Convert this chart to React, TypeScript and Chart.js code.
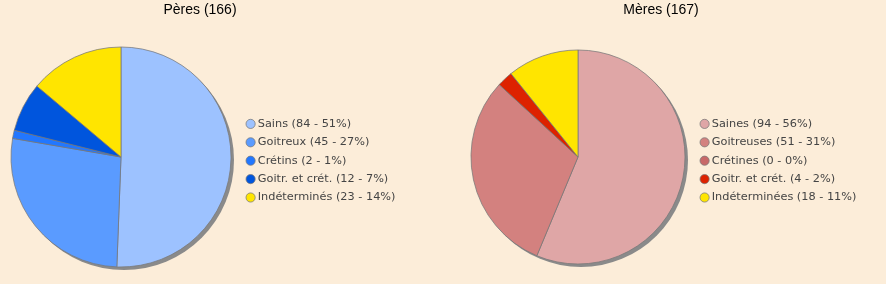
import React, { useEffect, useRef } from 'react';
import { Chart, registerables } from 'chart.js';

Chart.register(...registerables);

const BG = '#FCEDD9';

const peresTitle = 'Pères';
const peresCategories = ['Sains', 'Goitreux', 'Crétins', 'Goitr. et crét.', 'Indéterminés'];
const peresValues = [84, 45, 2, 12, 23];
const peresColors = ['#9DC2FF', '#5A9BFF', '#2277FF', '#0055DD', '#FFE500'];

const meresTitle = 'Mères';
const meresCategories = ['Saines', 'Goitreuses', 'Crétines', 'Goitr. et crét.', 'Indéterminées'];
const meresValues = [94, 51, 0, 4, 18];
const meresColors = ['#DFA6A6', '#D3817F', '#C86868', '#DD2200', '#FFE500'];

const shadowPlugin = {
  id: 'pieShadow',
  beforeDatasetsDraw(chart: any) {
    const arcs = chart.getDatasetMeta(0).data;
    if (!arcs || !arcs.length) return;
    const { x, y, outerRadius } = arcs[0].getProps(['x', 'y', 'outerRadius'], true);
    const ctx = chart.ctx;
    ctx.save();
    ctx.fillStyle = '#8a8a8a';
    ctx.beginPath();
    ctx.arc(x + 3, y + 3, outerRadius, 0, Math.PI * 2);
    ctx.fill();
    ctx.restore();
  },
};

type PieProps = {
  title: string;
  categories: string[];
  values: number[];
  colors: string[];
  radius: number;
  left: number;
  width: number;
  legendWidth: number;
};

function PieChart({ title, categories, values, colors, radius, left, width, legendWidth }: PieProps) {
  const ref = useRef<HTMLCanvasElement | null>(null);
  useEffect(() => {
    if (!ref.current) return;
    const total = values.reduce((a, b) => a + b, 0);
    const labels = categories.map(
      (c, i) => `${c} (${values[i]} - ${Math.round((values[i] / total) * 100)}%)`
    );
    const chart = new Chart(ref.current, {
      type: 'pie',
      data: {
        labels,
        datasets: [
          {
            data: values,
            backgroundColor: colors,
            borderColor: 'rgba(120,120,120,0.75)',
            borderWidth: 1,
            radius,
          } as any,
        ],
      },
      options: {
        responsive: false,
        animation: false,
        events: [],
        layout: { padding: { left: 0, right: 0, top: 0, bottom: 17 } },
        plugins: {
          tooltip: { enabled: false },
          title: {
            display: true,
            text: `${title} (${total})`,
            color: '#000',
            font: { family: '"Liberation Sans", Arial, sans-serif', size: 14, weight: 'normal' },
            padding: { top: 2, bottom: 28.2 },
          },
          legend: {
            display: true,
            position: 'right',
            fullSize: false,
            maxWidth: legendWidth,
            title: {
              display: true,
              text: ' ',
              font: { size: 2, lineHeight: 1 },
              padding: { top: 0, bottom: 5.4 },
            },
            labels: {
              usePointStyle: true,
              pointStyle: 'circle',
              boxWidth: 3,
              boxHeight: 6.5,
              padding: 7.1,
              color: '#444',
              font: { family: '"DejaVu Sans", sans-serif', size: 11.3 },
            },
          },
        },
      } as any,
      plugins: [shadowPlugin],
    });
    return () => chart.destroy();
  }, []);
  return (
    <canvas
      ref={ref}
      width={width}
      height={284}
      style={{ position: 'absolute', left, top: 0, width, height: 284 }}
    />
  );
}

export default function App() {
  return (
    <div
      style={{
        position: 'fixed',
        left: 0,
        top: 0,
        width: 886,
        height: 284,
        background: BG,
        overflow: 'hidden',
      }}
    >
      <PieChart
        title={peresTitle}
        categories={peresCategories}
        values={peresValues}
        colors={peresColors}
        radius={110}
        left={0}
        width={400}
        legendWidth={158}
      />
      <PieChart
        title={meresTitle}
        categories={meresCategories}
        values={meresValues}
        colors={meresColors}
        radius={107}
        left={460}
        width={402}
        legendWidth={166}
      />
    </div>
  );
}
